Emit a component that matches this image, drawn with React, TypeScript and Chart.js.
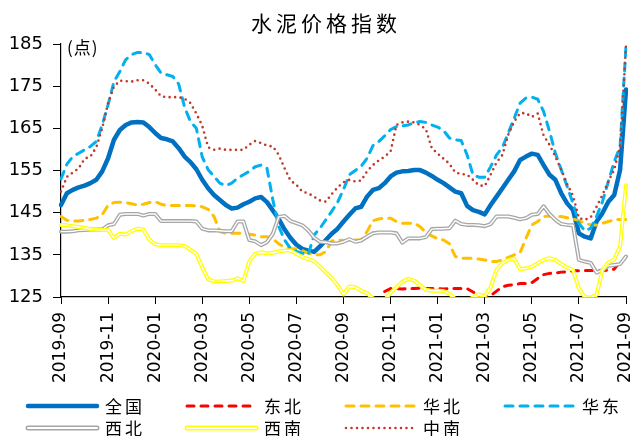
import React, { useEffect, useRef } from 'react';
import { Chart, registerables } from 'chart.js';

Chart.register(...registerables);

const TITLE = '水泥价格指数';
const UNIT = '(点)';

const months = [
  '2019-09', '2019-10', '2019-11', '2019-12', '2020-01', '2020-02', '2020-03', '2020-04',
  '2020-05', '2020-06', '2020-07', '2020-08', '2020-09', '2020-10', '2020-11', '2020-12',
  '2021-01', '2021-02', '2021-03', '2021-04', '2021-05', '2021-06', '2021-07', '2021-08', '2021-09',
];
// weekly categories (4 per month)
const categories = months.flatMap((m, j) =>
  j === months.length - 1 ? [m] : [m, `${m} W2`, `${m} W3`, `${m} W4`]
);
const tickLabels = months.filter((_, j) => j % 2 === 0);
const yMin = 125;
const yMax = 185;
const yStep = 10;

const quanguo = [
  146.8, 149.6, 150.4, 151, 151.4, 152, 152.8, 154.8, 157.9, 162.3, 164.6, 165.8, 166.4, 166.5, 166.4, 165.3,
  163.9, 162.7, 162.4, 161.9, 160.3, 158.3, 157, 155.3, 152.8, 150.8, 149.2, 148, 146.8, 146, 146.2, 147,
  147.6, 148.4, 148.7, 147.5, 145.5, 143.5, 141, 139, 137.4, 136.4, 136, 135.7, 137, 138.5, 140, 141.2,
  142.9, 144.5, 146, 146.4, 148.8, 150.4, 150.8, 152, 153.6, 154.5, 154.8, 154.9, 155.1, 155.1, 154.5, 153.7,
  152.8, 152, 151, 150, 149.6, 146.6, 145.6, 145.2, 144.6, 146.8, 148.8, 150.8, 152.8, 154.8, 157.5, 158.3,
  159, 158.7, 156.3, 154, 152.8, 149.6, 147.2, 145.6, 140.1, 139.3, 138.9, 142.9, 144.9, 147.6, 149.2, 155.2,
  174.2,
];
const dongbei = [
  null, null, null, null, null, null, null, null, null, null, null,
  null, null, null, null, null, null, null, null, null, null, null,
  null, null, null, null, null, null, null, null, null, null, null,
  null, null, null, null, null, null, null, null, null, null, null,
  null, null, null, null, null, null, null, null, null, null, null,
  126.3, 127, 127, 126.9, 127, 127, 127.1, 127, 127, 127, 126.9, 127, 127, 127, 127,
  126.2, 125.3, 125, 125.3, 126.4, 127.4, 127.8, 127.9, 128.2, 128.2, 128.4, 129.4, 130.3, 130.6, 130.7, 130.9,
  131, 131.2, 131.2, 131.3, 131.3, 131.3, 131.3, 131.4, 131.6, 133.4,
];
const huabei = [
  144.1, 143.2, 143, 143, 143.2, 143.4, 143.7, 144.5, 146.8, 147.4, 147.5, 147.4, 147.1, 146.8, 147, 147.4,
  147.6, 147, 146.7, 146.7, 146.7, 146.7, 146.7, 146.6, 146.4, 145.8, 144.1, 140.5, 140.1, 140.1, 140.1, 140.1,
  139.9, 139.7, 139.3, 139.3, 138.8, 137.6, 136.8, 136.5, 136.4, 136, 135.4, 135, 135, 135.8, 138.3, 138.5,
  138.4, 138.5, 138.5, 138.5, 140.5, 143.1, 143.5, 143.7, 143.7, 142.9, 142.5, 142.5, 142.5, 141.7, 140.3, 139.5,
  138.8, 138.5, 137.6, 134.6, 134.2, 134.2, 134.2, 134, 133.8, 133.4, 133.4, 133.8, 134.4, 135, 135.5, 138.9,
  142.1, 142.9, 144.1, 144.2, 144.1, 144.1, 143.8, 143.5, 143.1, 142.5, 142.1, 142.1, 142.5, 142.9, 143.3, 143.4,
  143.4,
];
const huadong = [
  153, 156.5, 158.3, 159.1, 159.9, 160.7, 161.9, 165.8, 170.6, 176.1, 178.5, 181.3, 182.5, 183, 183, 182.5,
  180.1, 178.1, 177.7, 177.3, 175.5, 170, 166.6, 165, 158.2, 155.2, 153.6, 152, 151.4, 152, 153.2, 154,
  154.8, 155.9, 156.3, 155.5, 148, 141.7, 138.5, 136.5, 135.8, 135.4, 135, 139.7, 141.3, 143.3, 145.3, 147.5,
  150.5, 154, 155, 156, 157.9, 160.9, 161.9, 163.2, 164.7, 165.4, 165.6, 165.8, 166.4, 166.6, 166.4, 165.8,
  165.3, 164.5, 162.7, 162.3, 162.1, 158.7, 154, 153.4, 153.4, 155.9, 158.7, 160.5, 163.9, 167.4, 171, 172.2,
  172.4, 171.9, 169, 164.3, 159.1, 155.2, 151.2, 147.2, 142.5, 140.7, 141.3, 144.1, 147.6, 152.4, 157.1, 160.7,
  184.5,
];
const xibei = [
  140.5, 140.5, 140.6, 140.8, 140.9, 141, 141, 141, 142, 142.3, 144.5, 144.7, 144.7, 144.7, 144.3, 144.7,
  144.7, 143, 143, 143, 143, 143, 143, 142.9, 141.2, 140.8, 140.8, 140.7, 140.6, 140.6, 142.9, 142.9,
  138.5, 138.2, 137.3, 138, 140, 144, 144.2, 143, 142.5, 142, 140.8, 139.1, 138.1, 138, 137.7, 137.7,
  138.1, 138.7, 138.1, 138.4, 139.3, 140.1, 140.3, 140.3, 140.3, 140.1, 137.9, 138.9, 138.9, 138.9, 139.2, 141.1,
  141.2, 141.2, 141.3, 143.1, 142.3, 142.1, 142.1, 142, 141.8, 142.3, 144.1, 144.1, 144.1, 143.8, 143.4, 143.7,
  144.5, 144.7, 146.5, 144.7, 143.3, 142.3, 142.1, 142, 133.8, 133.4, 133.1, 130.8, 131.4, 132.4, 132.6, 132.8,
  134.6,
];
const xinan = [
  142.1, 142, 141.8, 141.6, 141.4, 141.1, 141, 140.9, 140.9, 139, 140, 139.8, 140.6, 141.2, 141, 138.6,
  137.5, 137.3, 137.3, 137.3, 137.3, 137.1, 136.2, 135.2, 132, 129.2, 128.7, 128.7, 128.8, 128.9, 129.4, 128.8,
  133.5, 135.2, 135.6, 135.3, 135.5, 135.8, 136, 136, 135.2, 134.5, 134, 133.5, 132.2, 130.8, 129.5, 127.8,
  125.6, 127.5, 127.3, 126.5, 125.9, 124.7, 124, 124.3, 126, 127.3, 128.6, 129.3, 128.9, 127.8, 126.7, 126.5,
  126.5, 126.4, 125.8, 124.5, 123.8, 124.2, 124.9, 125.6, 125.2, 127.3, 131.4, 133, 133.8, 134.1, 131.6, 131.8,
  132.2, 133, 133.8, 134.2, 133.8, 132.8, 132, 131.4, 127, 125, 124.9, 125.5, 131.4, 133.2, 133.9, 137,
  151.5,
];
const zhongnan = [
  150, 153.5, 154.5, 155.5, 157.8, 158.3, 160.5, 165, 171, 174.9, 176.3, 176.2, 176.1, 176.4, 176.4, 175.6,
  174.2, 172.6, 172.4, 172.4, 172.4, 172, 171, 168.5, 165.6, 160.5, 159.9, 160.2, 159.9, 159.9, 159.9, 159.9,
  161.1, 162, 161.5, 160.9, 160.7, 158.7, 155.5, 152.6, 151.6, 150, 149.6, 148.8, 147.9, 147.6, 149.4, 151,
  152.2, 152.8, 152.4, 152.6, 154.8, 156.3, 157.4, 158.3, 159.5, 165.8, 166.4, 166.6, 166.4, 165.8, 164.8, 160.3,
  159, 157.8, 156.6, 154.5, 154.2, 154, 152.8, 151.5, 151.3, 154, 156.9, 158.7, 163.5, 166.6, 168.6, 168.6,
  167.7, 168.5, 163.3, 161.1, 158.3, 155.2, 151.8, 149, 143.7, 143.3, 143.9, 146.4, 149.2, 152.4, 155.2, 160.7,
  184.5,
];

type Style = { name: string; color: string; width: number; dash?: number[]; double?: boolean };
const styles: Style[] = [
  { name: '全国', color: '#0070C0', width: 4.5 },
  { name: '东北', color: '#FF0000', width: 3, dash: [7, 7] },
  { name: '华北', color: '#FFC000', width: 3, dash: [8, 7] },
  { name: '华东', color: '#00B0F0', width: 3, dash: [8, 7] },
  { name: '西北', color: '#A6A6A6', width: 4, double: true },
  { name: '西南', color: '#FFFF00', width: 4, double: true },
  { name: '中南', color: '#C0392B', width: 2.6, dash: [0, 5.5] },
];
const seriesData = [quanguo, dongbei, huabei, huadong, xibei, xinan, zhongnan];

const FONT_CJK = '"Noto Sans CJK SC", "Noto Sans", sans-serif';
const FONT_NUM = '"DejaVu Sans", "Liberation Sans", sans-serif';

const overlayPlugin = {
  id: 'overlay',
  afterDraw(chart: any) {
    const ctx: CanvasRenderingContext2D = chart.ctx;
    const area = chart.chartArea;
    ctx.save();
    ctx.fillStyle = '#000';
    ctx.textBaseline = 'middle';
    // title
    ctx.font = `21px ${FONT_CJK}`;
    ctx.textAlign = 'center';
    (ctx as any).letterSpacing = '4px';
    ctx.fillText(TITLE, 326, 23);
    // unit
    ctx.font = `17px ${FONT_CJK}`;
    ctx.textAlign = 'left';
    (ctx as any).letterSpacing = '1px';
    ctx.fillText(UNIT, area.left + 6, area.top + 4);
    // legend
    (ctx as any).letterSpacing = '3px';
    ctx.font = `17px ${FONT_CJK}`;
    styles.forEach((s, k) => {
      const col = k % 4;
      const row = Math.floor(k / 4);
      const x0 = 28 + col * 159;
      const y = 406 + row * 22;
      const len = 69;
      ctx.save();
      ctx.lineCap = 'round';
      ctx.beginPath();
      ctx.moveTo(x0, y);
      ctx.lineTo(x0 + len, y);
      if (s.double) {
        ctx.strokeStyle = s.color;
        ctx.lineWidth = 5;
        ctx.stroke();
        ctx.strokeStyle = '#fff';
        ctx.lineWidth = 2;
        ctx.stroke();
      } else {
        ctx.setLineDash(s.dash || []);
        ctx.strokeStyle = s.color;
        ctx.lineWidth = s.width;
        ctx.stroke();
      }
      ctx.restore();
      ctx.fillText(s.name, x0 + 77, y + 1);
    });
    ctx.restore();
  },
};

export default function App() {
  const ref = useRef<HTMLCanvasElement | null>(null);
  useEffect(() => {
    if (!ref.current) return;
    const datasets: any[] = [];
    // Excel-like order: later series on top
    styles.forEach((s, k) => {
      const data = seriesData[k];
      const base = {
        label: s.name,
        data,
        pointRadius: 0,
        pointHoverRadius: 0,
        tension: 0,
        fill: false,
        borderCapStyle: 'round',
        borderJoinStyle: 'round',
        spanGaps: false,
      };
      const order = (styles.length - k) * 2;
      if (s.double) {
        datasets.push({ ...base, borderColor: s.color, borderWidth: s.width, order: order });
        datasets.push({ ...base, label: s.name + ' inner', borderColor: '#ffffff', borderWidth: 1.4, order: order - 1 });
      } else {
        datasets.push({ ...base, borderColor: s.color, borderWidth: s.width, borderDash: s.dash || [], order });
      }
    });

    const chart = new Chart(ref.current, {
      type: 'line',
      data: { labels: categories, datasets },
      plugins: [overlayPlugin],
      options: {
        responsive: false,
        animation: false,
        events: [],
        layout: { padding: { top: 44, right: 9, left: 0, bottom: 0 } },
        plugins: {
          legend: { display: false },
          title: { display: false },
          tooltip: { enabled: false },
        },
        scales: {
          x: {
            type: 'category',
            offset: false,
            grid: { drawOnChartArea: false, drawTicks: true, tickLength: 7, color: '#000', lineWidth: 1 },
            border: { display: true, color: '#000', width: 1.2 },
            ticks: {
              autoSkip: false,
              minRotation: 90,
              maxRotation: 90,
              padding: 8,
              color: '#000',
              font: { family: FONT_NUM, size: 17 },
              callback: (_v: any, index: number) => (index % 8 === 0 ? tickLabels[index / 8] : null),
            },
            afterFit: (scale: any) => {
              scale.height = 139;
              scale.paddingLeft = 0;
              scale.paddingRight = 0;
            },
          },
          y: {
            type: 'linear',
            min: yMin,
            max: yMax,
            grid: { drawOnChartArea: false, drawTicks: true, tickLength: 8, color: '#000', lineWidth: 1 },
            border: { display: true, color: '#000', width: 1.2 },
            ticks: {
              stepSize: yStep,
              padding: 10,
              color: '#000',
              font: { family: FONT_NUM, size: 18 },
            },
            afterFit: (scale: any) => {
              scale.width = 61;
              scale.paddingTop = 0;
              scale.paddingBottom = 0;
            },
          },
        },
      } as any,
    });
    return () => chart.destroy();
  }, []);

  return (
    <div style={{ position: 'fixed', left: 0, top: 0, width: 635, height: 436, background: '#fff' }}>
      <canvas ref={ref} width={635} height={436} style={{ display: 'block' }} />
    </div>
  );
}
